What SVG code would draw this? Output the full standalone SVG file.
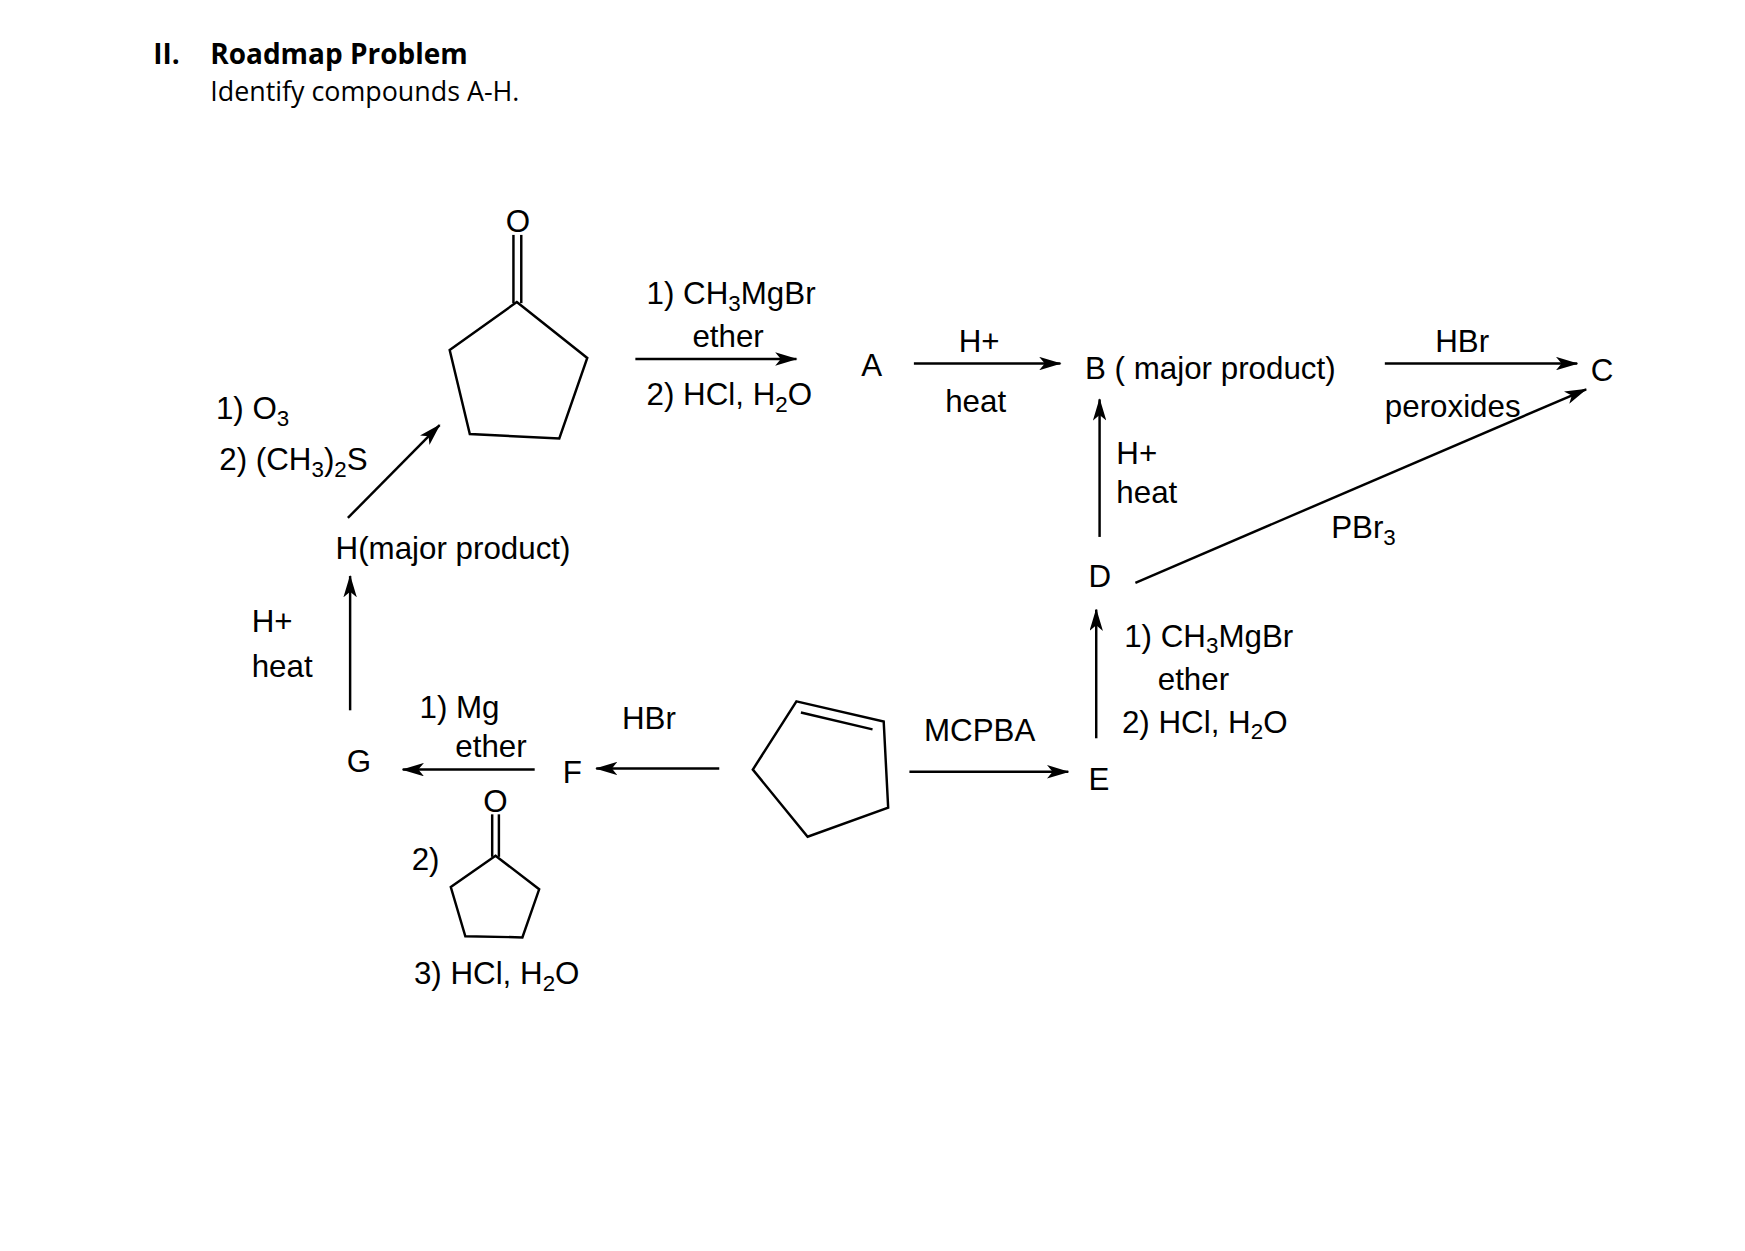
<svg xmlns="http://www.w3.org/2000/svg" width="1745" height="1251" viewBox="0 0 1745 1251">
<defs>
<marker id="ah" viewBox="0 0 20 12" refX="19" refY="6" markerWidth="20" markerHeight="12" markerUnits="userSpaceOnUse" orient="auto"><path d="M0,0 L20,6 L0,12 L5,6 Z" fill="#000"/></marker>
<style>
.t{font-family:"Liberation Sans",Arial,sans-serif;font-size:28px;fill:#000}
.s{font-size:20px}
.h{font-family:"Open Sans","Liberation Sans",sans-serif;fill:#000}
.b{fill:none;stroke:#000;stroke-width:2.2}
.a{fill:none;stroke:#000;stroke-width:2.2;marker-end:url(#ah)}
</style>
</defs>
<rect width="1745" height="1251" fill="#fff"/>
<g transform="scale(1.1186)">
<g id="title">
<text class="h" x="137" y="57" font-size="25" font-weight="bold">II.</text>
<text class="h" x="188" y="57" font-size="25" font-weight="bold">Roadmap Problem</text>
<text class="h" x="188" y="90" font-size="24">Identify compounds A-H.</text>
</g>
<g id="cyclopentanone">
<text class="t" x="463" y="207" text-anchor="middle" font-size="24">O</text>
<line class="b" x1="459" y1="210" x2="459" y2="271"/><line class="b" x1="466" y1="210" x2="466" y2="271"/>
<polygon class="b" points="462,270 525,320 500,392 420,388 402,313"/>
</g>
<g id="cyclopentanone2">
<text class="t" x="443" y="726" text-anchor="middle" font-size="22">O</text>
<line class="b" x1="440" y1="728" x2="440" y2="766"/><line class="b" x1="446" y1="728" x2="446" y2="766"/>
<polygon class="b" points="443,765 482,795 467,838 416,837 403,793"/>
</g>
<g id="cyclopentene">
<polygon class="b" points="712,627 790,645 794,722 722,748 673,688"/>
<line class="b" x1="716" y1="637" x2="780" y2="652"/>
</g>
<g id="nodes">
<text class="t" id="A" x="770" y="336">A</text>
<text class="t" id="B" x="970" y="339">B ( major product)</text>
<text class="t" id="C" x="1422" y="341">C</text>
<text class="t" id="D" x="973" y="525">D</text>
<text class="t" id="E" x="973" y="706">E</text>
<text class="t" id="F" x="503" y="700">F</text>
<text class="t" id="G" x="310" y="690">G</text>
<text class="t" id="H" x="300" y="500">H(major product)</text>
</g>
<g id="connectors">
<line class="a" x1="568" y1="321" x2="712" y2="321"/>
<line class="a" x1="817" y1="325" x2="948" y2="325"/>
<line class="a" x1="1238" y1="325" x2="1410" y2="325"/>
<line class="a" x1="1015" y1="521" x2="1418" y2="348"/>
<line class="a" x1="983" y1="480" x2="983" y2="357"/>
<line class="a" x1="980" y1="660" x2="980" y2="545"/>
<line class="a" x1="813" y1="690" x2="955" y2="690"/>
<line class="a" x1="643" y1="687" x2="533" y2="687"/>
<line class="a" x1="478" y1="688" x2="360" y2="688"/>
<line class="a" x1="313" y1="635" x2="313" y2="515"/>
<line class="a" x1="311" y1="463" x2="393" y2="380"/>
</g>
<g id="labels">
<text class="t" x="578" y="272">1) CH<tspan class="s" dy="6">3</tspan><tspan dy="-6">MgBr</tspan></text>
<text class="t" x="619" y="310">ether</text>
<text class="t" x="578" y="362">2) HCl, H<tspan class="s" dy="6">2</tspan><tspan dy="-6">O</tspan></text>
<text class="t" x="857" y="315">H+</text>
<text class="t" x="845" y="368">heat</text>
<text class="t" x="1283" y="315">HBr</text>
<text class="t" x="1238" y="373">peroxides</text>
<text class="t" x="1190" y="481">PBr<tspan class="s" dy="6">3</tspan></text>
<text class="t" x="998" y="415">H+</text>
<text class="t" x="998" y="450">heat</text>
<text class="t" x="1005" y="578">1) CH<tspan class="s" dy="6">3</tspan><tspan dy="-6">MgBr</tspan></text>
<text class="t" x="1035" y="617">ether</text>
<text class="t" x="1003" y="655">2) HCl, H<tspan class="s" dy="6">2</tspan><tspan dy="-6">O</tspan></text>
<text class="t" x="826" y="662">MCPBA</text>
<text class="t" x="556" y="652">HBr</text>
<text class="t" x="375" y="642">1) Mg</text>
<text class="t" x="407" y="677">ether</text>
<text class="t" x="368" y="778">2)</text>
<text class="t" x="370" y="880">3) HCl, H<tspan class="s" dy="6">2</tspan><tspan dy="-6">O</tspan></text>
<text class="t" x="225" y="565">H+</text>
<text class="t" x="225" y="605">heat</text>
<text class="t" x="193" y="375">1) O<tspan class="s" dy="6">3</tspan></text>
<text class="t" x="196" y="420">2) (CH<tspan class="s" dy="6">3</tspan><tspan dy="-6">)</tspan><tspan class="s" dy="6">2</tspan><tspan dy="-6">S</tspan></text>
</g>
</g>
</svg>
